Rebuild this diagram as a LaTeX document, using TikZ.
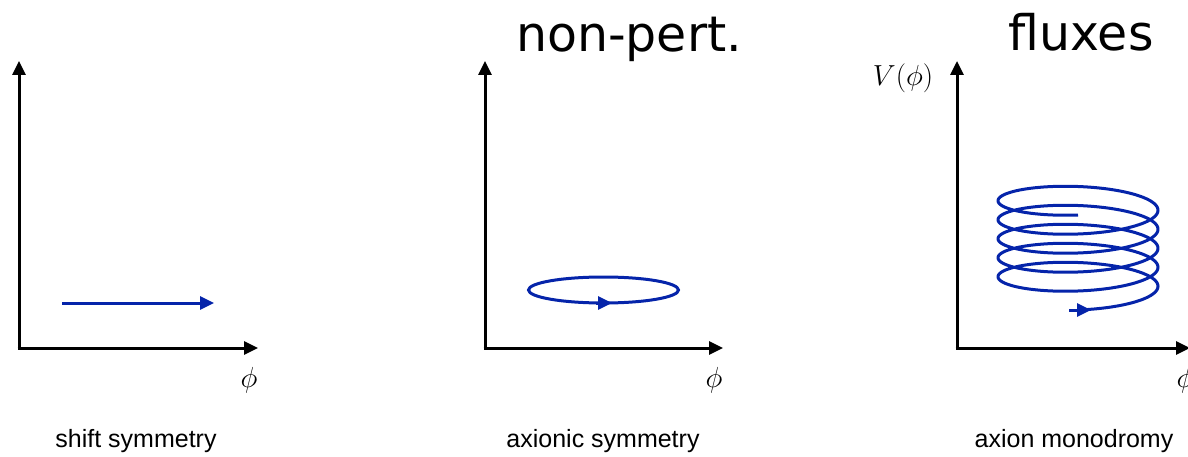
\RequirePackage{fix-cm}
\documentclass[tikz,border=0pt]{standalone}
\usepackage{fontspec}
\newfontfamily\titlefont{DejaVu Sans}
\newfontfamily\labelfont{Liberation Sans}
\usetikzlibrary{arrows.meta}
\definecolor{spiralblue}{RGB}{5,36,170}
\tikzset{
  axis/.style={line width=3pt,-{Triangle[length=14pt,width=13pt]}},
  blueline/.style={spiralblue,line width=3pt},
  bluetip/.style={spiralblue,line width=3pt,-{Triangle[length=14pt,width=13pt]}},
  title/.style={anchor=base,inner sep=0pt,font=\titlefont\fontsize{49}{60}\selectfont},
  caption/.style={anchor=base,inner sep=0pt,font=\labelfont\fontsize{25}{30}\selectfont},
  mathlabel/.style={anchor=center,inner sep=0pt,font=\fontsize{29}{34}\selectfont},
}
\begin{document}
\begin{tikzpicture}[x=1pt,y=-1pt]
\useasboundingbox (0,0) rectangle (1188,457);
% ---- panel 1
\coordinate (o1) at (19,348);
\coordinate (y1) at (19,61);
\coordinate (x1) at (258,348);
\draw[axis] (o1) -- (y1);
\draw[axis] ([xshift=-1.5pt]o1) -- (x1);
\coordinate (a1s) at (62,303);
\coordinate (a1e) at (214,303);
\draw[bluetip] (a1s) -- (a1e);
\node[mathlabel] (phi1) at (249,380) {$\phi$};
\node[caption] (cap1) at (136,447) {shift symmetry};
% ---- panel 2
\coordinate (o2) at (485,348);
\coordinate (y2) at (485,61);
\coordinate (x2) at (723,348);
\draw[axis] (o2) -- (y2);
\draw[axis] ([xshift=-1.5pt]o2) -- (x2);
\draw[blueline] (603.5,290) ellipse [x radius=75,y radius=13];
\coordinate (a2s) at (596,303);
\coordinate (a2e) at (612,303);
\draw[bluetip] (a2s) -- (a2e);
\node[mathlabel] (phi2) at (714,380) {$\phi$};
\node[caption] (cap2) at (603,447) {axionic symmetry};
\node[title] (t2) at (629,52) {non-pert.};
% ---- panel 3
\coordinate (o3) at (957,348);
\coordinate (y3) at (957,61);
\coordinate (x3) at (1190,348);
\draw[axis] (o3) -- (y3);
\draw[axis] ([xshift=-1.5pt]o3) -- (x3);
\draw[blueline,line join=round] plot[domain=0:1800,samples=500,smooth]
  ({1078+80*sin(\x)},{291-19*(\x/360)+19*cos(\x)});
\coordinate (a3s) at (1069,310);
\coordinate (a3e) at (1091,310);
\draw[bluetip] (a3s) -- (a3e);
\node[mathlabel] (phi3) at (1185,380) {$\phi$};
\node[mathlabel] (V) at (903,78) {$V(\phi)$};
\node[caption] (cap3) at (1074,447) {axion monodromy};
\node[title] (t3) at (1081,51) {fluxes};
\end{tikzpicture}
\end{document}
